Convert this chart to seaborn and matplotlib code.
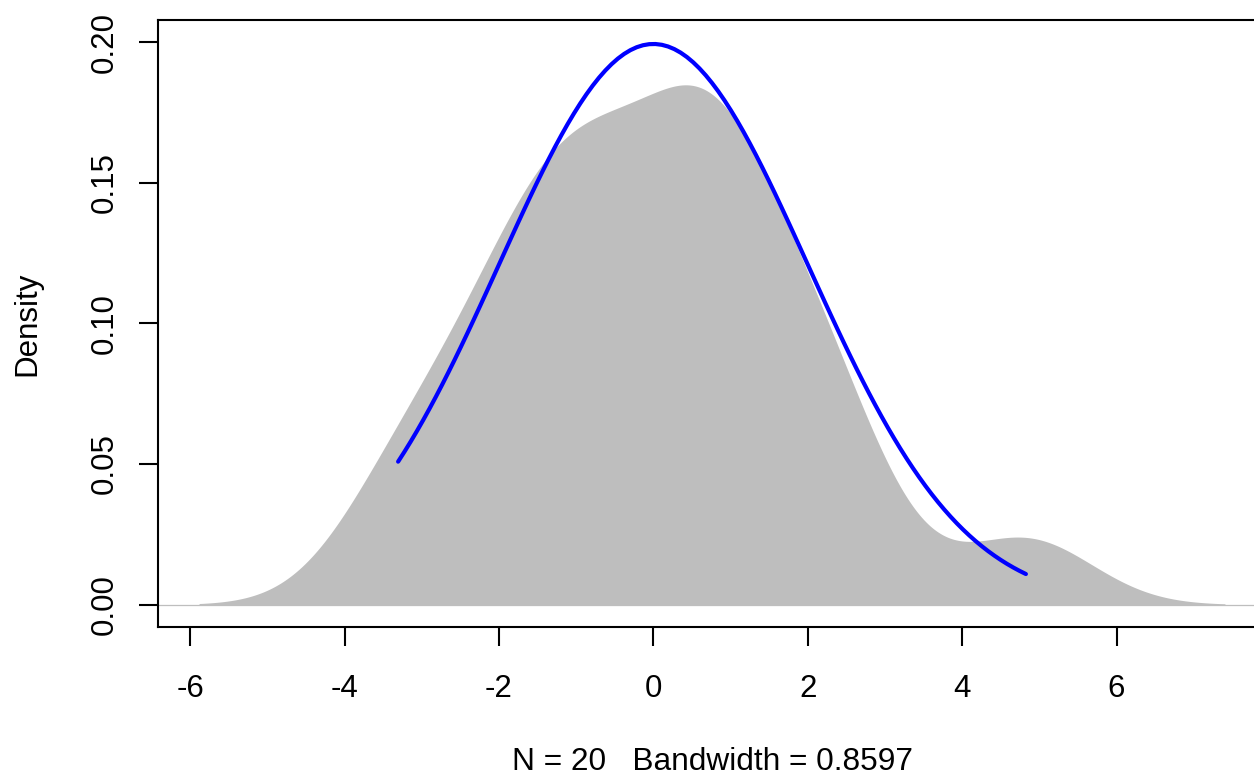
import numpy as np
import pandas as pd
import matplotlib
matplotlib.use('Agg')
import matplotlib.pyplot as plt
import seaborn as sns

# Sample (N = 20) estimated from the reference density
sample_values = [-3.307, -3.03, -1.87, -1.86, -1.86, -1.21, -0.78, -0.77, -0.61, -0.42,
                 0.68, 0.68, 0.68, 0.69, 0.69, 1.13, 2.05, 2.23, 2.30, 4.826]
bandwidth = 0.8597
normal_mean = 0.0
normal_sd = 2.0
x_ticks = [-6, -4, -2, 0, 2, 4, 6]
y_ticks = [0.00, 0.05, 0.10, 0.15, 0.20]
y_tick_labels = ["0.00", "0.05", "0.10", "0.15", "0.20"]

sns.set_style("ticks")
plt.rcParams['font.family'] = ['Liberation Sans', 'DejaVu Sans']
plt.rcParams['text.color'] = 'black'
plt.rcParams['axes.labelcolor'] = 'black'
plt.rcParams['xtick.color'] = 'black'
plt.rcParams['ytick.color'] = 'black'

data = pd.DataFrame({"x": sample_values})
fig = plt.figure(figsize=(12.54, 7.78), dpi=100)
ax = fig.add_axes([158 / 1254, (778 - 627) / 778, 1108 / 1254, 607 / 778])

gray = "#BEBEBE"
ax.axhline(0, color=gray, lw=0.9, zorder=1)
sd_sample = np.std(sample_values, ddof=1)
sns.kdeplot(data=data, x="x", bw_method=bandwidth / sd_sample, cut=3, gridsize=512,
            fill=True, color=gray, alpha=1.0, linewidth=0, ax=ax, zorder=2)

xs = np.linspace(min(sample_values), max(sample_values), 101)
curve = pd.DataFrame({"x": xs,
                      "y": np.exp(-0.5 * ((xs - normal_mean) / normal_sd) ** 2) / (normal_sd * np.sqrt(2 * np.pi))})
sns.lineplot(data=curve, x="x", y="y", color="blue", linewidth=3.0, ax=ax, zorder=3)

lo = min(sample_values) - 3 * bandwidth
hi = max(sample_values) + 3 * bandwidth
ax.set_xlim(lo - 0.04 * (hi - lo), hi + 0.04 * (hi - lo))
ax.set_ylim(-0.008, 0.208)

ax.set_xticks(x_ticks)
ax.set_xticklabels([str(t) for t in x_ticks])
ax.set_yticks(y_ticks)
ax.set_yticklabels(y_tick_labels)
for sp in ax.spines.values():
    sp.set_visible(True)
    sp.set_linewidth(1.5)
    sp.set_color("black")
ax.tick_params(axis='both', direction='out', length=13.7, width=1.5, colors='black',
               labelcolor='black', labelsize=22.5)
ax.tick_params(axis='x', pad=20)
ax.tick_params(axis='y', pad=14)
for lab in ax.get_yticklabels():
    lab.set_rotation(90)
    lab.set_va('center')
    lab.set_ha('right')

ax.set_xlabel("N = 20   Bandwidth = 0.8597", fontsize=22.8, color='black')
ax.set_ylabel("Density", fontsize=22.5, color='black')
ax.xaxis.set_label_coords(0.5, -(747 - 627) / 607)
ax.yaxis.set_label_coords(-(158 - 42) / 1108, 0.5)

fig.savefig("out.png", dpi=100)
